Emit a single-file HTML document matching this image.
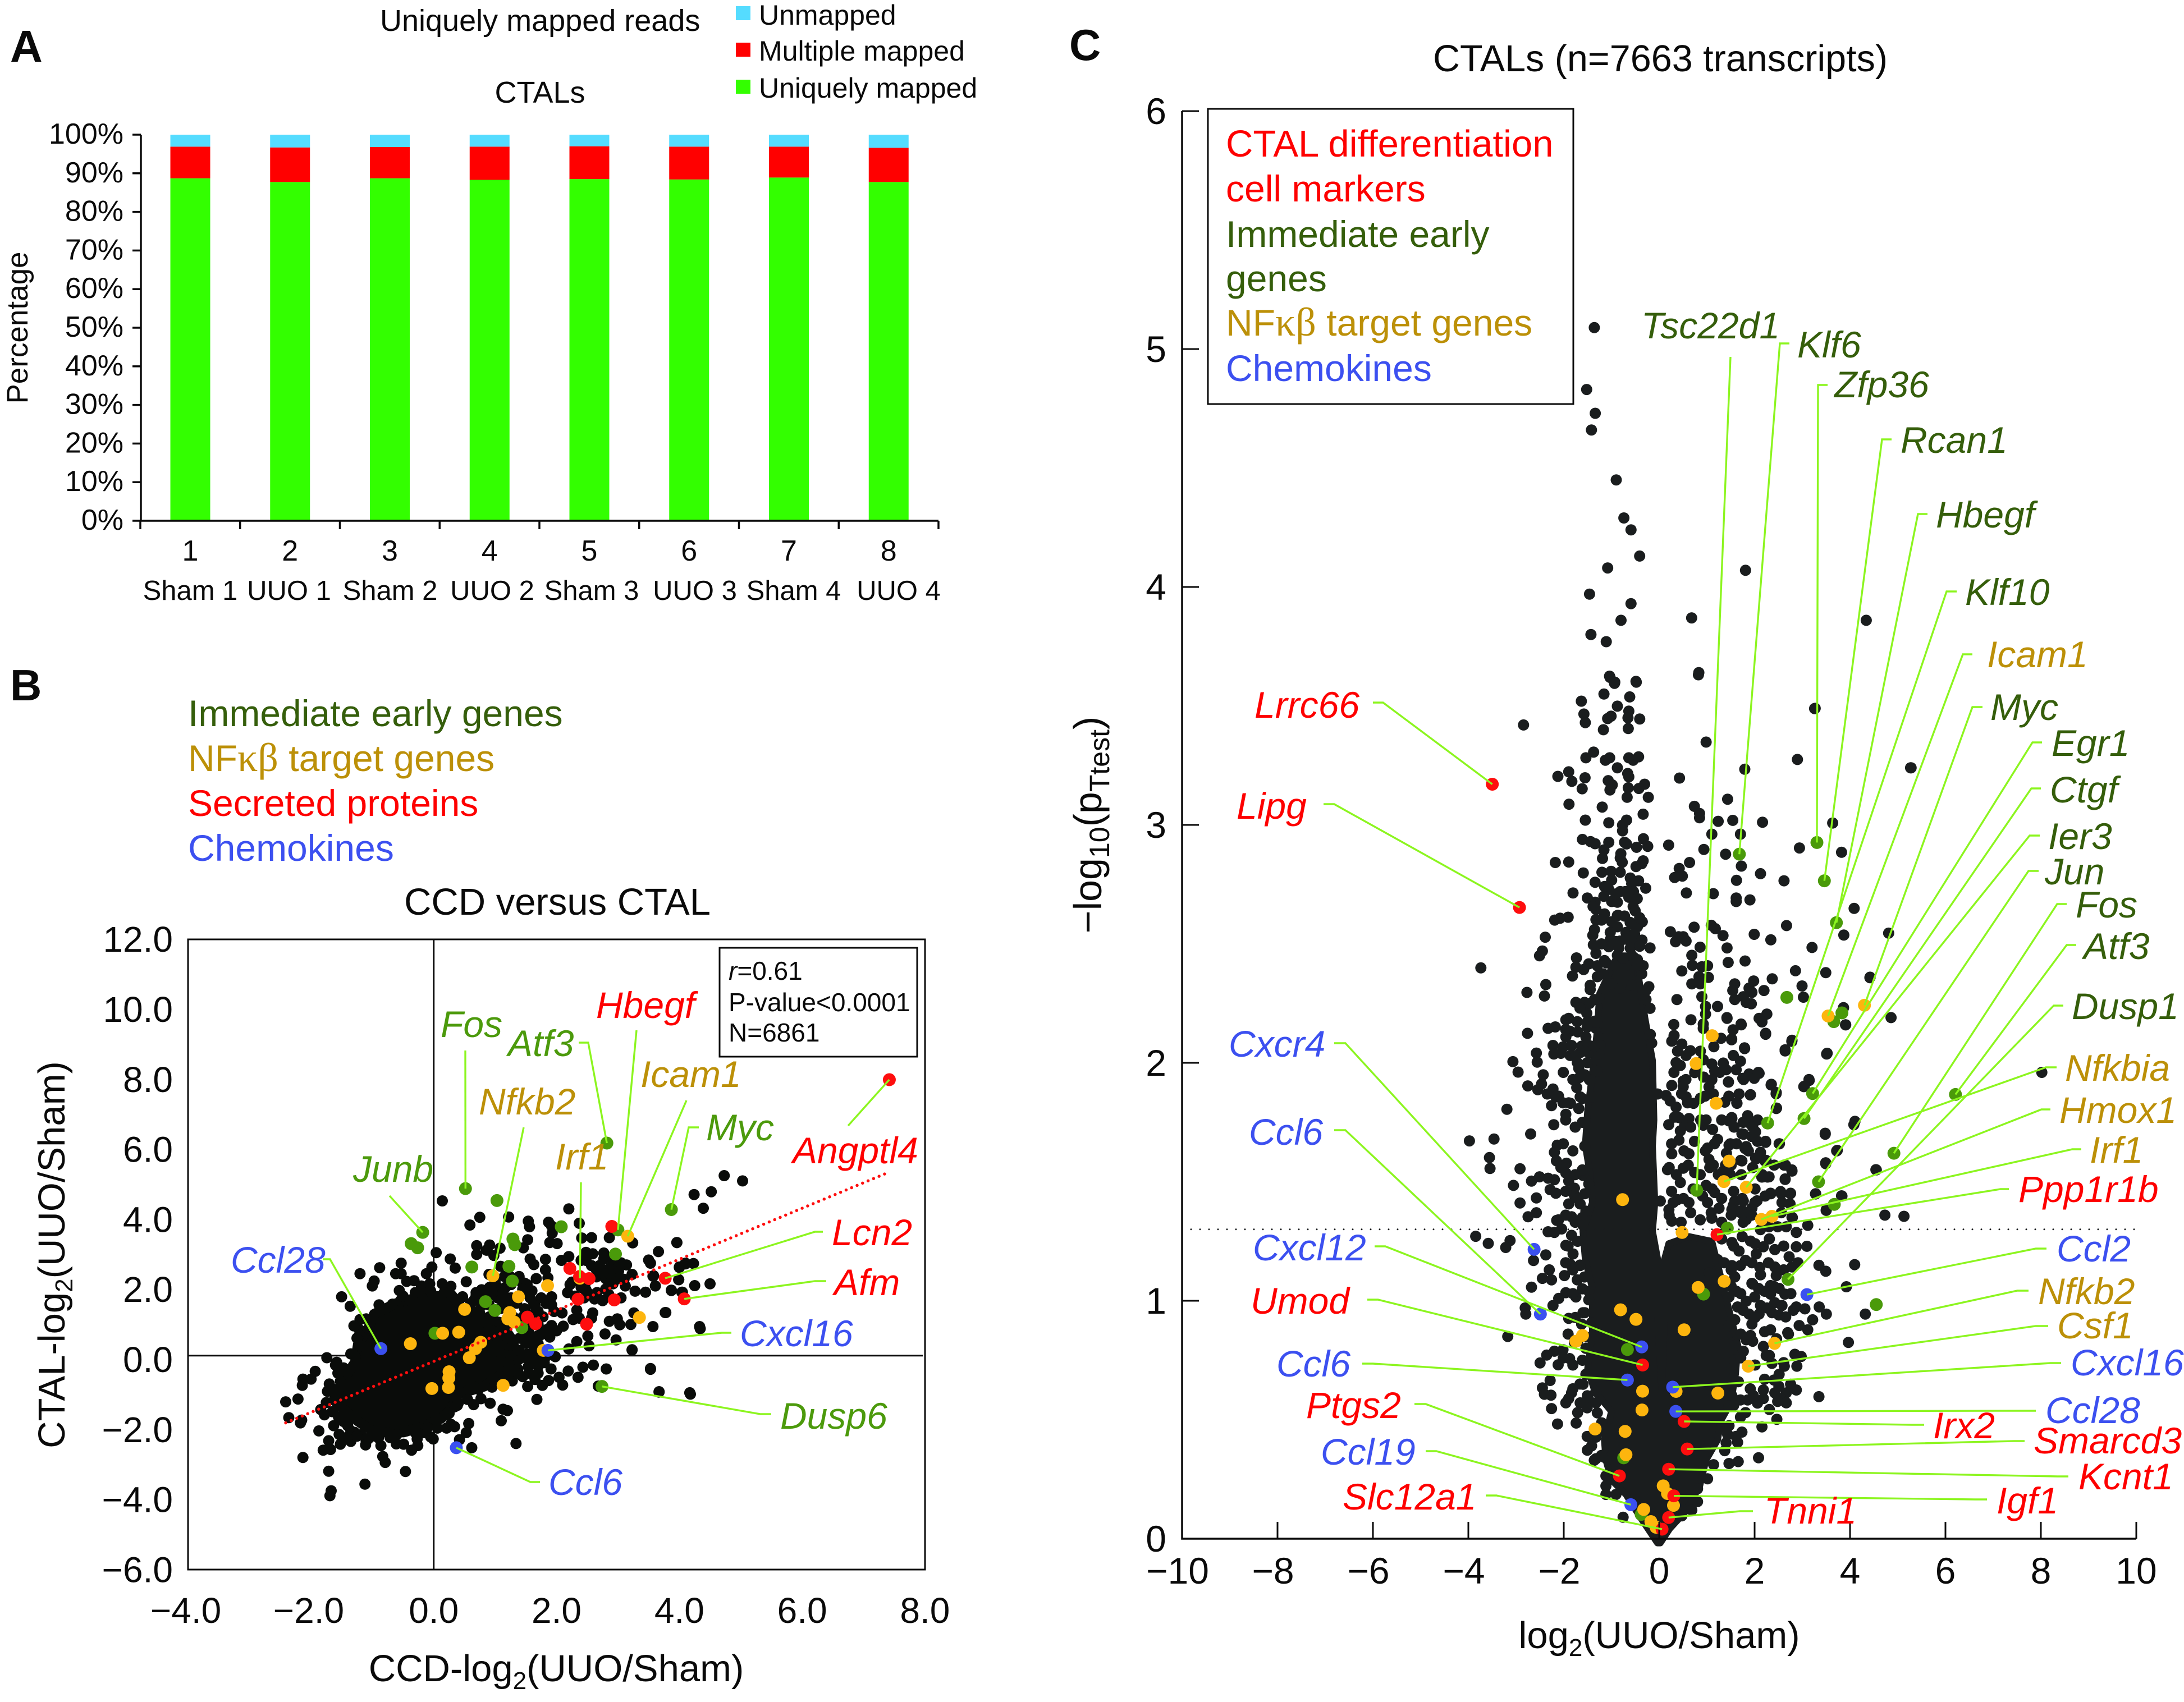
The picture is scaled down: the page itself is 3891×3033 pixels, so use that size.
<!DOCTYPE html>
<html lang="en"><head><meta charset="utf-8"><title>CTAL transcript figure</title>
<style>
html,body{margin:0;padding:0;background:#fff}
svg{display:block}
text{font-family:"Liberation Sans",sans-serif;fill:#0a0a0a}
.gene{font-style:italic;font-size:66px}
.g{fill:#4c9a0c}.dg{fill:#355e0b}.au{fill:#bc9008}.r{fill:#fe0000}.b{fill:#3c50f0}
.leg{font-size:66px}
.k{font-family:"Liberation Serif",serif;font-size:72px}
</style></head>
<body>
<svg id="fig" xmlns="http://www.w3.org/2000/svg" width="3891" height="3033" viewBox="0 0 3891 3033">
<rect width="3891" height="3033" fill="#fff"/>
<!-- Panel A -->
<text x="18" y="110" font-size="80" font-weight="700">A</text>
<text x="677" y="55" font-size="54">Uniquely mapped reads</text>
<text x="962" y="183" font-size="54" text-anchor="middle">CTALs</text>
<rect x="1311" y="11" width="26" height="25" fill="#55dcff"/>
<text x="1352" y="44" font-size="50">Unmapped</text>
<rect x="1311" y="76" width="26" height="25" fill="#ff0000"/>
<text x="1352" y="108" font-size="50">Multiple mapped</text>
<rect x="1311" y="142" width="26" height="25" fill="#33ff00"/>
<text x="1352" y="174" font-size="50">Uniquely mapped</text>
<text transform="translate(49 584) rotate(-90)" font-size="53" text-anchor="middle">Percentage</text>
<g font-size="49" text-anchor="middle">
<text x="339" y="1069">Sham 1</text>
<text x="515" y="1069">UUO 1</text>
<text x="695" y="1069">Sham 2</text>
<text x="877" y="1069">UUO 2</text>
<text x="1054" y="1069">Sham 3</text>
<text x="1238" y="1069">UUO 3</text>
<text x="1414" y="1069">Sham 4</text>
<text x="1601" y="1069">UUO 4</text>
</g>
<!-- Panel B -->
<text x="18" y="1248" font-size="78" font-weight="700">B</text>
<text x="335" y="1294" class="leg dg">Immediate early genes</text>
<text x="335" y="1374" class="leg au">NF<tspan class="k au">κβ</tspan> target genes</text>
<text x="335" y="1454" class="leg r">Secreted proteins</text>
<text x="335" y="1534" class="leg b">Chemokines</text>
<text x="993" y="1630" font-size="67" text-anchor="middle">CCD versus CTAL</text>
<text x="991" y="2996" font-size="67" text-anchor="middle">CCD-log<tspan dy="14" font-size="44">2</tspan><tspan dy="-14">(UUO/Sham)</tspan></text>
<text transform="translate(115 2236) rotate(-90)" font-size="67" text-anchor="middle">CTAL-log<tspan dy="14" font-size="44">2</tspan><tspan dy="-14">(UUO/Sham)</tspan></text>
<g id="bLabels" class="gene">
<text x="785" y="1848" class="g">Fos</text>
<text x="905" y="1882" class="g">Atf3</text>
<text x="1062" y="1814" class="r">Hbegf</text>
<text x="1141" y="1937" class="au">Icam1</text>
<text x="853" y="1986" class="au">Nfkb2</text>
<text x="1258" y="2032" class="g">Myc</text>
<text x="989" y="2084" class="au">Irf1</text>
<text x="629" y="2106" class="g">Junb</text>
<text x="1412" y="2073" class="r">Angptl4</text>
<text x="1482" y="2219" class="r">Lcn2</text>
<text x="1486" y="2308" class="r">Afm</text>
<text x="411" y="2268" class="b">Ccl28</text>
<text x="1318" y="2399" class="b">Cxcl16</text>
<text x="1390" y="2546" class="g">Dusp6</text>
<text x="977" y="2664" class="b">Ccl6</text>
</g>
<!-- Panel C -->
<text x="1905" y="107" font-size="78" font-weight="700">C</text>
<text x="2553" y="127" font-size="66.5">CTALs (n=7663 transcripts)</text>
<text x="2956" y="2937" font-size="67" text-anchor="middle">log<tspan dy="14" font-size="44">2</tspan><tspan dy="-14">(UUO/Sham)</tspan></text>
<text transform="translate(1962 1470) rotate(-90)" font-size="70" text-anchor="middle">−log<tspan dy="14" font-size="50">10</tspan><tspan dy="-14">(p</tspan><tspan dy="14" font-size="50">Ttest</tspan><tspan dy="-14">)</tspan></text>
<g id="cLabels" class="gene">
<text x="2924" y="603" class="dg">Tsc22d1</text>
<text x="3202" y="637" class="dg">Klf6</text>
<text x="3268" y="708" class="dg">Zfp36</text>
<text x="3386" y="807" class="dg">Rcan1</text>
<text x="3449" y="940" class="dg">Hbegf</text>
<text x="3501" y="1078" class="dg">Klf10</text>
<text x="3540" y="1189" class="au">Icam1</text>
<text x="3546" y="1283" class="dg">Myc</text>
<text x="3655" y="1347" class="dg">Egr1</text>
<text x="3652" y="1430" class="dg">Ctgf</text>
<text x="3649" y="1513" class="dg">Ier3</text>
<text x="3643" y="1576" class="dg">Jun</text>
<text x="3698" y="1635" class="dg">Fos</text>
<text x="3712" y="1709" class="dg">Atf3</text>
<text x="3691" y="1816" class="dg">Dusp1</text>
<text x="3679" y="1926" class="au">Nfkbia</text>
<text x="3669" y="2001" class="au">Hmox1</text>
<text x="3723" y="2072" class="au">Irf1</text>
<text x="3596" y="2142" class="r">Ppp1r1b</text>
<text x="3664" y="2248" class="b">Ccl2</text>
<text x="3631" y="2324" class="au">Nfkb2</text>
<text x="3665" y="2385" class="au">Csf1</text>
<text x="3689" y="2451" class="b">Cxcl16</text>
<text x="3644" y="2536" class="b">Ccl28</text>
<text x="3444" y="2563" class="r">Irx2</text>
<text x="3623" y="2590" class="r">Smarcd3</text>
<text x="3703" y="2654" class="r">Kcnt1</text>
<text x="3557" y="2697" class="r">Igf1</text>
<text x="3143" y="2715" class="r">Tnni1</text>
<text x="2235" y="1279" class="r">Lrrc66</text>
<text x="2203" y="1459" class="r">Lipg</text>
<text x="2189" y="1883" class="b">Cxcr4</text>
<text x="2225" y="2040" class="b">Ccl6</text>
<text x="2232" y="2246" class="b">Cxcl12</text>
<text x="2228" y="2341" class="r">Umod</text>
<text x="2274" y="2453" class="b">Ccl6</text>
<text x="2327" y="2527" class="r">Ptgs2</text>
<text x="2353" y="2610" class="b">Ccl19</text>
<text x="2392" y="2690" class="r">Slc12a1</text>
</g>
</svg>
<script>
/* ===== Panel A data ===== */
const sampleNumbers=['1','2','3','4','5','6','7','8'];
const uniqueShare=[88.7,87.75,88.7,88.3,88.5,88.4,88.9,87.75];
const multipleShare=[8.2,8.95,8.1,8.6,8.5,8.5,8.0,8.85];
const unmappedShare=[3.1,3.3,3.2,3.1,3.0,3.1,3.1,3.4];
const percentTicks=[0,10,20,30,40,50,60,70,80,90,100];

/* ===== Panel B data: CCD vs CTAL log2(UUO/Sham) ===== */
const bXTicks=[-4,-2,0,2,4,6,8];
const bYTicks=[-6,-4,-2,0,2,4,6,8,10,12];
const bRegressionLine=[-2.41,-1.82,7.36,5.3];
const bCrossing=[0,0.1];
/* outline of the fully overplotted centre of the cloud, x,y pairs */
const bDenseCore=[-.97,1.29,-.62,1.59,-.227,1.78,.3,1.82,.47,1.44,.69,1.21,1.08,1.06,1.26,.6,1.39,-.02,1.13,-.4,.82,-.78,.385,-1.01,.3,-1.4,.12,-1.7,-.183,-1.93,-.49,-2.09,-.97,-2.09,-1.23,-1.78,-1.49,-1.4,-1.63,-1.17,-1.49,-.63,-1.28,-.09,-1.23,.44,-1.06,.9];
/* individual transcripts, x,y pairs */
const bBlack=[.14,4.52,.75,4.05,.59,3.83,1.22,4.06,1.54,3.94,1.56,3.78,1.87,3.91,1.92,3.8,1.93,3.6,2.2,4.29,2.37,3.88,2.41,3.46,2.57,3.47,2.86,3.47,3.24,3.32,3.96,3.33,3.66,3.07,3.5,2.83,3.53,2.74,1.89,3.33,2.01,3.3,1.53,3.41,1.46,3.18,.7,3.24,.7,2.99,.91,3.26,.86,3.11,.98,2.96,1.08,3.17,.04,3.04,.27,2.86,.35,2.6,-.03,2.63,-.12,2.44,-.53,2.74,-.88,2.61,-1.2,2.44,-.62,2.44,-.53,2.44,-.97,2.23,-1,2.09,-.44,2.22,-.32,2.24,-.56,1.96,-.2,2.09,-.065,2.15,-.17,1.9,.14,2.15,.28,2.08,.53,2.21,.47,1.78,.17,1.9,-1.5,1.78,-1.36,1.51,-.89,1.55,-.67,1.57,-.54,1.67,-1.2,1.13,-1.21,.84,-1.21,.69,-1.19,.38,-1.28,.07,-1.74,.04,-1.58,-.09,-1.6,-.17,-1.47,-.25,-1.56,-.4,-1.93,-.35,-2.13,-.57,-1.997,-.57,-2.14,-.75,-2.41,-1.22,-2.21,-1.14,-2.36,-1.67,-2.17,-1.82,-2.15,-1.74,-1.7,-.71,-1.73,-.92,-1.63,-.86,-1.75,-1.24,-1.84,-1.44,-1.78,-1.59,-1.52,-.63,-1.63,-1.9,-1.47,-1.78,-1.87,-2.05,-1.54,-2.15,-1.42,-2.24,-1.52,-2.43,-1.35,-2.35,-1.71,-2.33,-1.8,-2.6,-1.68,-2.58,-2.13,-2.81,-1.11,-2.45,-1.1,-2.35,-.86,-2.47,-1.19,-2.16,-1.29,-2.09,-.71,-2.24,-.61,-2.42,-.49,-2.43,-.27,-2.28,-.26,-2.47,-.36,-2.6,-.445,-2.05,-.83,-2.78,-.79,-2.95,-.46,-3.21,-1.71,-3.2,-1.12,-3.57,-1.67,-3.76,-1.69,-3.9,-.008,-2.28,-.05,-2.22,.06,-1.97,.21,-1.97,.28,-1.86,.34,-1.93,.57,-1.84,.53,-2.1,.42,-2.3,.62,-2.53,1.34,-2.41,1.1,-1.76,1.13,-1.43,1.2,-1.47,.92,-1.26,.65,-1.3,.77,-1.13,.385,-1.03,.34,-1.36,.21,-1.59,.56,-.9,.95,-.8,1.28,-.62,1.17,-.48,1.68,-1.15,1.53,-.78,1.65,-.58,1.77,-.75,1.87,-.61,2.1,-.74,2.04,-.52,1.91,-.28,2.19,-.34,2.35,-.52,2.43,-.23,2.6,-.17,2.81,-.28,2.68,-.77,3.53,-.29,3.67,-.94,4.18,-1,1.98,.07,1.7,-.21,1.54,-.21,1.37,-.29,1.7,-.4,3.23,.26,2.2,.29,2.33,.5,2.53,.38,2.51,.66,2.97,.55,2.79,.72,3.57,.93,3.77,1.33,3.21,.99,3.03,.98,2.86,1.08,2.99,1.15,3.26,1.32,2.59,1.32,2.57,1.17,2.33,1.4,2.27,1.13,2.37,1.17,2.11,.94,1.92,.96,2,.81,1.89,.63,1.7,.67,1.52,.48,2.09,1.32,1.92,1.55,1.83,1.59,1.7,1.36,1.63,1.59,1.52,1.9,1.48,2.17,1.92,1.78,1.86,2.32,1.67,2.3,1.82,2.55,1.82,2.85,1.57,2.86,1.63,2.7,1.09,2.65,.9,2.42,1.15,2.36,1.39,2.36,.91,2.05,.69,1.9,1.04,2.05,.78,1.98,1.17,1.59,1.04,1.75,.65,1.67,2.08,2.82,2.2,2.93,2.4,2.82,2.48,3.05,2.59,3.01,2.48,2.82,2.77,3.03,2.77,2.86,2.57,2.67,2.7,2.67,2.96,2.7,3.14,2.69,2.86,2.59,3.01,2.51,3.23,2.42,2.94,2.4,3.1,2.28,2.92,2.15,3.12,2.09,2.18,1.9,2.22,2.13,2.48,1.98,2.66,1.9,2.62,1.72,2.75,1.67,3.28,1.94,3.45,1.91,3.61,2.09,3.58,2.38,3.87,1.97,3.99,2.27,4.04,1.91,4,2.63,4.1,2.74,4.73,5.24,5.03,5.09,4.24,4.7,4.52,4.78,4.39,4.31,3.96,3.33,4.23,2.73,4.1,2.72,4,2.62,3.57,2.37,3.99,2.27,4.25,2.1,4.5,2.15,3.87,1.96,4.05,1.91,3.78,1.33,4.33,.93,4.34,.87,4.17,-.96,3.67,-.93,3.53,-.27,3.23,.27,.78,1.52,.91,1.21,1.08,1.44,1.26,1.75,1.48,1.44,1.63,1.29,1.78,1.21,1.96,1.36,1.7,.44,1.52,.14,1.74,.02,1.63,.25,1.39,.25,1.22,-.17,1.35,-.4,1.13,-.71,.73,-.86,.65,-.78,.385,-1.32,1.04,.6,1.7,.98,1.26,2.13,1.17,2.05,1.43,2.2,1.52,2.13,1.57,1.75,1.65,1.52,1.13,1.9,.91,1.82,.95,1.98,.69,1.82,.6,1.59,.65,1.36,2.48,2.2];
/* extra estimated transcripts filling the semi-dense arm and rim of the cloud */
const bBlackRim=[.75,1.3,.85,1.05,.95,.8,1.1,.85,1.2,.95,1.3,1.2,1.45,1.2,1.5,.95,1.55,.75,1.4,.6,1.5,.45,1.3,.35,1.45,.05,1.6,-.05,1.25,.1,1.1,.15,.95,-.55,1,-.65,1.25,-.35,1.45,-.5,1.55,-.4,1.8,-.1,1.85,.1,1.6,.5,1.75,.7,1.85,.85,1.2,1.55,1.35,1.6,1.1,1.7,.9,1.55,.75,1.7,.85,1.9,1,2.2,1.25,2.35,1.45,2,1.6,1.95,1.75,1.75,2.3,1.8,2.45,1.75,2.25,2.2,2.4,2.05,2.55,1.85,2.8,2,2.85,1.85,3.05,1.75,2.65,2.35,2.8,2.3,2.85,2.15,3,2.3,2.65,2.55,2.75,2.45,3.05,2.75,2.9,2.85,2.5,2.95,-1.45,-.75,-1.6,-1,-1.65,-1.5,-1.55,-1.65,-1.4,-1.9,-1.35,-2.05,-1.25,-2.2,-1.05,-2.25,-.9,-2.25,-.75,-2.1,-.6,-2.15,-.3,-2.1,-.15,-2.1,-.1,-1.95,.05,-1.75,.25,-1.55,.4,-1.25,.55,-1.15,-1.35,.15,-1.25,.6,-1.3,.95,-1.1,1.15,-.85,1.45,-.5,1.8,-.3,1.9,-.05,1.95];
/* highlighted genes: name (blank when unlabelled), x, y */
const bEarlyGenes=[['Fos',.517,4.87],['',1.03,4.53],['Junb',-.179,3.62],['',-.367,3.3],['',-.262,3.18],['',.621,2.63],['',1.29,3.43],['',1.32,3.27],['',1.225,2.65],['',1.28,2.23],['',.844,1.64],['',.997,1.39],['',2.077,3.78],['Hbegf',3,3.69],['',2.96,3],['Myc',3.87,4.27],['Atf3',2.82,6.17],['',1.435,.9],['',.02,.74],['Dusp6',2.74,-.78]];
const bNfkbGenes=[['Nfkb2',.963,2.38],['Irf1',2.38,2.31],['Icam1',3.16,3.51],['',1.854,2.1],['',1.38,1.78],['',.503,1.42],['',1.238,1.33],['',1.207,1.15],['',1.31,1.06],['',3.35,1.19],['',.145,.74],['',.407,.77],['',-.38,.44],['',.766,.48],['',.68,.3],['',.58,.04],['',.25,-.36],['',.246,-.54],['',.24,-.81],['',-.03,-.84],['',1.13,-.75],['',1.785,.25]];
const bSecreted=[['Angptl4',7.42,7.98],['',2.9,3.79],['',2.217,2.59],['',2.375,2.36],['',2.53,2.3],['',2.35,1.71],['',2.94,1.69],['',2.49,1],['',1.526,1.2],['',1.66,1.01],['Lcn2',3.77,2.31],['Afm',4.08,1.72]];
const bChemokines=[['Ccl28',-.86,.3],['Cxcl16',1.86,.25],['Ccl6',.368,-2.53]];

/* ===== Panel C data: volcano plot ===== */
const cXTicks=[-10,-8,-6,-4,-2,0,2,4,6,8,10];
const cYTicks=[0,1,2,3,4,5,6];
const cThreshold=1.3;
const cDenseCore=[-.876,2.45,-.5,2.45,-.3,2.19,-.14,2.01,-.11,1.76,-.14,1.65,-.09,1.413,-.14,1.293,-.03,1.173,-.03,.932,0,.812,.054,.631,.11,.932,.11,1.173,.2,1.24,.624,1.27,1.104,1.25,1.35,1.052,1.65,.812,1.6,.691,1.5,.571,1.3,.499,1.224,.415,.98,.33,.85,.222,.55,.114,.22,.042,.024,-.018,-.036,-.018,-.396,.09,-.696,.186,-.996,.246,-1.116,.33,-1.15,.415,-1,.535,-1.35,.619,-1.5,.715,-1.4,.872,-1.4,1.052,-1.55,1.173,-1.6,1.293,-1.4,1.413,-1.45,1.533,-1.55,1.654,-1.5,1.8,-1.4,1.953,-1.3,2.133,-1.25,2.29];
const cBlack=[-1.36,5.09,-1.52,4.83,-1.34,4.73,-1.42,4.66,-.9,4.45,-.74,4.29,-.59,4.24,-.41,4.13,-1.08,4.08,1.81,4.07,-1.46,3.97,-.59,3.93,4.34,3.86,-.8,3.86,.68,3.87,-1.43,3.8,-1.11,3.77,.83,3.64,-1.03,3.62,-.93,3.6,-.48,3.6,3.27,3.49,5.28,3.24,5.27,3.24,
-1.04,3.625,-.936,3.595,-.486,3.603,.822,3.631,-1.158,3.55,-.618,3.538,-1.632,3.52,-.876,3.499,-.636,3.478,-1.578,3.466,-.654,3.45,-1.008,3.457,-1.08,3.447,-1.548,3.43,-.408,3.445,-2.844,3.42,-1.17,3.4,-.648,3.405,.984,3.348,3.258,3.489,-1.374,3.306,-1.536,3.282,-1.128,3.272,-1.038,3.282,-.636,3.282,-.546,3.272,-.432,3.286,2.898,3.275,-.876,3.24,1.794,3.234,-1.896,3.223,-2.124,3.204,-1.554,3.198,-.66,3.216,-.636,3.202,.426,3.197,-1.83,3.183,-1.068,3.186,-.984,3.168,-.306,3.171,-.426,3.153,-.648,3.156,-1.614,3.152,-1.032,3.147,-.672,3.116,-.228,3.116,1.434,3.108,-1.89,3.087,-1.194,3.075,.738,3.078,-.336,3.045,.846,3.048,.846,3.03,-1.548,3.02,-1.056,3.009,-.684,3.02,-.768,2.999,-.768,2.975,1.236,3.015,1.542,3.019,2.166,3.011,3.636,3.008,1.104,2.961,1.704,2.961,-1.608,2.939,-1.44,2.93,-1.344,2.921,-1.056,2.927,-.726,2.927,-.684,2.92,-.33,2.942,-.24,2.91,-.474,2.906,.198,2.915,-1.158,2.895,.936,2.897,1.392,2.877,2.94,2.903,3.822,2.885,-.804,2.879,-.816,2.861,-1.188,2.859,-.774,2.843,-.336,2.849,-.366,2.837,-.486,2.825,-2.178,2.842,-1.896,2.844,.636,2.842,1.722,2.827,.42,2.817,.486,2.785,.324,2.779,-1.59,2.798,-1.2,2.801,-1.008,2.805,-.816,2.801,2.124,2.795,2.616,2.765,1.62,2.767,-.606,2.777,-.432,2.765,-.996,2.768,-1.344,2.759,-.576,2.753,-1.146,2.741,-1.056,2.729,-.816,2.72,-.282,2.734,-.54,2.72,-1.806,2.714,.57,2.714,1.134,2.711,-1.506,2.693,-.636,2.696,-.996,2.678,-.876,2.675,-1.344,2.675,1.614,2.693,1.614,2.678,1.902,2.685,-.546,2.657,-1.386,2.657,-1.326,2.645,4.086,2.649,-.504,2.639,-1.146,2.626,-.876,2.619,-.726,2.617,-1.908,2.612,-2.076,2.608,-2.19,2.6,-1.326,2.602,-.996,2.593,-.354,2.593,-.576,2.584,1.092,2.578,1.176,2.564,.732,2.57,2.67,2.577,.234,2.551,-.876,2.572,-.456,2.572,-1.356,2.56,-1.026,2.548,-.696,2.548,-.516,2.542,-1.392,2.536,1.338,2.535,1.992,2.54,3.87,2.537,.504,2.53,.408,2.53,-2.388,2.528,-1.026,2.518,-.36,2.516,-.816,2.512,-.576,2.512,2.34,2.517,.564,2.512,.342,2.509,-1.38,2.496,-1.056,2.488,-.846,2.482,-.606,2.482,-.192,2.483,.858,2.486,1.422,2.483,3.204,2.485,-2.448,2.47,-2.508,2.45,-1.326,2.46,-.876,2.452,-.576,2.452,.684,2.452,-1.734,2.441,-1.146,2.43,-.456,2.434,1.446,2.422,1.8,2.428,-3.738,2.399,-1.476,2.416,-1.296,2.408,-.936,2.41,-.696,2.41,-.336,2.408,.696,2.41,.894,2.404,1.014,2.408,-1.746,2.402,-1.584,2.392,.474,2.386,2.856,2.387,-1.176,2.374,-.366,2.374,3.492,2.379,4.416,2.358,-1.818,2.365,-1.296,2.362,.834,2.362,1.032,2.359,2.37,2.353,1.98,2.344,-2.376,2.329,-1.446,2.326,-.996,2.332,-.576,2.326,1.584,2.332,.684,2.332,.864,2.332,2.994,2.323,-2.772,2.296,-.216,2.32,-.276,2.304,-1.146,2.311,-.816,2.314,1.542,2.304,1.884,2.314,2.196,2.304,-2.406,2.281,-1.446,2.308,3.024,2.276,.372,2.266,.894,2.278,1.584,2.266,1.944,2.296,1.764,2.278,1.824,2.254,1.932,2.248,-1.746,2.254,-1.566,2.254,-1.356,2.266,-.276,2.266,1.224,2.237,.972,2.237,-.192,2.229,3.864,2.232,-1.518,2.209,.972,2.205,1.422,2.187,2.256,2.205,2.094,2.187,2.154,2.172,.666,2.181,-1.896,2.187,-1.956,2.181,-1.716,2.173,-1.506,2.172,-1.356,2.175,1.716,2.163,3.906,2.16,.306,2.161,.924,2.163,.924,2.145,1.548,2.139,-2.178,2.151,-2.328,2.145,-1.326,2.145,-.156,2.083,-.186,2.119,-2.76,2.124,2.232,2.124,.312,2.115,.264,2.091,-1.872,2.133,-1.956,2.109,-1.536,2.109,-1.236,2.103,1.296,2.103,1.518,2.097,2.784,2.095,-2.226,2.073,-2.016,2.067,-1.836,2.073,-1.626,2.07,-1.476,2.073,-1.236,2.073,1.146,2.068,1.788,2.063,2.64,2.055,.474,2.079,-2.574,2.041,-2.208,2.037,-1.866,2.031,-1.656,2.043,-1.476,2.043,-1.266,2.037,.654,2.051,.384,2.049,3.51,2.037,.864,2.049,1.554,2.031,-3.066,2.005,-2.556,2.003,-1.716,2.001,-1.506,2.001,.354,2.001,.564,2.031,1.344,1.999,1.704,2.007,1.104,1.995,.924,2.013,-2.958,1.961,-1.686,1.977,-1.296,1.965,.444,1.989,1.404,1.971,1.614,1.971,.744,1.959,1.164,1.965,2.094,1.956,-2.43,1.95,-1.674,1.938,-1.464,1.929,1.884,1.953,1.752,1.935,1.992,1.935,1.104,1.929,-2.754,1.903,-2.466,1.911,-2.544,1.887,-2.226,1.89,-1.728,1.896,1.452,1.919,2.346,1.907,3.144,1.926,3.042,1.902,.504,1.923,.264,1.905,.504,1.899,1.044,1.899,.144,1.863,-.036,1.869,-2.346,1.869,-2.166,1.857,-1.656,1.857,-1.416,1.857,.564,1.857,1.674,1.869,1.914,1.866,2.454,1.875,1.134,1.869,.864,1.851,-3.192,1.805,-2.256,1.82,-2.016,1.832,-1.896,1.832,-1.686,1.808,.354,1.814,1.374,1.835,1.626,1.832,2.454,1.808,.594,1.832,1.854,1.778,1.524,1.766,.324,1.772,.624,1.766,.984,1.76,-1.956,1.784,4.104,1.754,2.064,1.76,
4.81,2.545,4.42,2.36,4.86,2.19,8.02,1.96,4.08,1.74,4.55,1.55,4.73,1.36,5.13,1.355,3.48,1.7,3.72,1.63,3.86,2.23,3.91,2.16,3.52,2.04,3.49,1.58,3.83,1.44,3.5,1.38,3.28,1.45,3.14,1.93,3.03,1.9,2.35,1.91,2.45,1.87,2.46,1.81,2.52,1.66,2.23,1.67,2.12,1.62,2.02,1.6,2.24,1.59,2.62,1.57,2.78,1.55,2.64,1.51,2.34,1.45,2.56,1.45,2.75,1.45,2.15,1.52,2.27,1.52,2.79,1.35,2.64,2.05,2.78,2.09,2.23,2.12,1.79,2.06,1.52,2.1,1.42,2.19,1.72,2.16,2.15,2.18,1.91,1.865,1.63,1.83,1.45,1.92,2.08,1.96,1.77,1.93,1.86,1.75,1.52,1.77,1.96,1.73,1.77,1.7,1.49,1.66,1.8,1.64,1.71,1.59,1.39,1.57,1.49,1.53,1.74,1.38,1.93,1.36,1.55,1.4,2.05,1.42,
-3.978,1.672,-3.462,1.68,-2.694,1.701,-3.558,1.602,-3.546,1.556,-2.916,1.555,-3.054,1.485,-2.676,1.503,-2.508,1.521,-2.328,1.515,-2.196,1.509,-2.286,1.467,-2.166,1.452,-2.574,1.432,-2.916,1.411,-2.574,1.37,-2.748,1.353,-2.148,1.338,-2.046,1.302,-2.328,1.29,-2.196,1.287,-3.846,1.271,-3.582,1.241,-3.126,1.253,-3.216,1.224,-2.376,1.193,-2.634,1.169,-2.304,1.13,-2.448,1.094,-2.256,1.088,-2.676,1.057,-2.808,.97,-2.796,.944,-3.174,.85,-2.496,.739,-2.358,.772,-2.118,.731,-2.286,.665,-2.448,.634,-2.406,.607,-2.268,.603,-2.256,.547,-2.13,.482,-1.74,.486,-1.836,.613,-1.896,.589,-1.956,.571,
-2.136,1.654,-2.196,1.624,-2.154,1.588,-1.944,1.578,-1.956,1.537,-1.596,1.527,-1.896,1.503,-1.776,1.473,-1.776,1.443,-1.476,1.491,-1.896,1.407,-1.656,1.407,-1.836,1.353,-1.536,1.377,-1.596,1.317,-1.836,1.275,-1.956,1.233,-1.806,1.197,-1.866,1.154,-1.656,1.148,-1.986,1.106,-1.716,1.088,-1.566,1.1,-1.746,1.016,-1.476,1.04,-1.956,1.034,-2.106,1.01,-2.226,.98,-1.596,.95,-1.896,.926,-1.476,1.004,-1.416,.908,-1.626,.902,-1.536,.848,-1.776,.824,-2.196,.788,-2.016,.794,-1.878,.757,-1.536,.8,-1.536,.691,-1.596,.649,-1.326,.619,-1.506,.601,-1.656,.571,-1.476,.583,-1.326,.571,-1.296,.529,-1.206,.487,-1.056,.463,-1.326,.427,-1.176,.451,-1.416,.39,-1.506,.372,-1.326,.336,-1.146,.342,-1.116,.264,-1.116,.222,-1.116,.186,-.906,.186,-.756,.09,
.414,1.675,.264,1.618,.174,1.551,.534,1.738,.444,1.714,.924,1.738,1.464,1.756,1.734,1.702,1.944,1.69,1.824,1.648,2.232,1.666,2.124,1.624,2.514,1.66,2.034,1.597,2.214,1.588,3.48,1.704,3.732,1.632,3.492,1.576,4.542,1.551,2.646,1.57,2.784,1.545,2.184,1.521,2.304,1.521,2.544,1.459,2.754,1.452,2.64,1.512,2.334,1.452,3.276,1.449,3.822,1.441,3.504,1.383,2.784,1.351,2.574,1.413,2.742,1.407,1.224,1.678,1.014,1.642,1.134,1.57,1.464,1.654,1.344,1.545,1.734,1.588,1.044,1.594,.444,1.497,.624,1.618,.504,1.557,.744,1.539,.294,1.413,.024,1.419,.204,1.383,.384,1.425,.624,1.413,.984,1.485,1.164,1.455,1.014,1.413,1.254,1.389,1.584,1.419,1.764,1.419,1.524,1.383,1.944,1.389,1.704,1.371,2.004,1.413,1.104,1.347,1.824,1.341,.264,1.335,2.664,1.311,2.484,1.311,2.874,1.287,3.114,1.317,2.304,1.311,2.124,1.299,1.914,1.251,2.184,1.227,2.034,1.197,2.424,1.215,2.874,1.227,3.096,1.229,2.724,1.185,1.524,1.245,1.674,1.209,2.784,1.142,2.424,1.142,1.704,1.148,1.944,1.16,1.524,1.148,1.224,1.173,3.348,1.149,3.492,1.124,4.098,1.152,2.124,1.109,2.454,1.106,1.584,1.1,1.044,1.118,1.944,1.073,2.082,1.052,2.334,1.064,1.614,1.04,3.924,1.059,2.514,1.052,2.634,1.028,2.334,1.028,2.004,1.016,1.824,.998,1.644,.974,1.464,1.016,2.124,.98,2.424,.992,2.574,.98,2.874,.974,3.054,.966,3.354,.974,3.504,.944,3.216,.92,4.32,.944,2.364,.95,2.652,.932,1.884,.944,2.094,.944,1.584,.92,1.464,.896,1.944,.902,1.914,.854,2.334,.878,2.934,.896,3.114,.878,2.694,.866,1.824,.836,1.584,.812,2.184,.808,2.844,.775,2.976,.766,2.244,.77,1.764,.788,1.584,.751,2.364,.737,2.886,.725,2.622,.725,3.966,.825,1.524,.715,2.514,.691,2.406,.667,2.754,.649,2.874,.625,2.184,.625,2.664,.613,2.184,.589,2.424,.613,2.544,.589,2.664,.571,2.484,.577,3.348,.597,1.974,.601,1.854,.583,1.704,.583,1.524,.601,1.464,.559,2.31,.543,2.466,.502,1.704,.511,1.464,.475,1.734,.448,2.154,.47,1.434,.439,1.644,.405,1.404,.403,1.374,.37,2.082,.34,1.656,.324,1.464,.316,1.14,.311,1.014,.252,.924,.354,.804,.21,.804,.156,.684,.12,.474,.096];
/* extra estimated transcripts for the crowded right flank */
const cBlackRightFlank=[.31,1.96,.56,1.93,.77,1.97,.93,1.94,1.27,1.96,.23,1.84,.47,1.87,.72,1.83,.96,1.86,1.22,1.83,1.46,1.86,.2,1.74,.41,1.77,.66,1.73,.87,1.76,1.12,1.72,1.31,1.76,1.57,1.73,1.76,1.75,2.02,1.71,.26,1.66,.52,1.63,.74,1.67,.97,1.63,1.16,1.66,1.41,1.62,1.62,1.66,1.87,1.63,2.06,1.67,.21,1.56,.36,1.53,.61,1.57,.86,1.53,1.06,1.56,1.24,1.53,1.51,1.57,1.72,1.53,1.96,1.56,2.16,1.53,2.41,1.57,.26,1.46,.51,1.43,.71,1.47,.91,1.44,1.11,1.47,1.31,1.43,1.56,1.46,1.74,1.43,2.01,1.47,2.22,1.44,.21,1.36,.46,1.33,.66,1.37,.86,1.34,1.09,1.37,1.31,1.33,1.51,1.36,1.76,1.33,1.94,1.36,2.26,1.34,2.56,1.37,1.31,1.26,1.56,1.23,1.74,1.27,2.01,1.24,2.31,1.26,2.61,1.23,1.36,1.16,1.51,1.13,1.81,1.17,2.11,1.14,2.29,1.16,2.61,1.13,2.91,1.16,1.51,1.06,1.71,1.03,1.96,1.07,2.21,1.04,2.41,1.06,2.76,1.03,1.76,.96,2.01,.93,2.26,.97,2.51,.94,2.81,.96,1.71,.86,1.96,.83,2.21,.87,2.46,.84,2.71,.86,1.71,.76,2.01,.73,2.31,.77,2.61,.74,1.66,.66,1.91,.63,2.21,.67,2.51,.64,1.56,.56,1.81,.53,2.06,.57,1.41,.46,1.61,.43];
/* extra estimated transcripts for the crowded left flank and upper column */
const cBlackLeftFlank=[-1.46,2.25,-1.66,2.23,-1.26,2.27,-1.51,2.15,-1.71,2.13,-1.31,2.17,-1.96,2.14,-1.56,2.05,-1.76,2.03,-1.36,2.07,-2.06,2.04,-1.56,1.95,-1.81,1.93,-2.01,1.96,-1.61,1.85,-1.86,1.83,-2.11,1.86,-1.61,1.75,-1.76,1.73,-1.96,1.76,-2.21,1.74,-1.56,1.65,-1.81,1.63,-2.01,1.66,-1.61,1.55,-1.76,1.53,-2.06,1.56,-1.56,1.45,-1.71,1.43,-1.96,1.46,-1.61,1.35,-1.76,1.33,-1.96,1.36,-2.11,1.34,-1.71,1.25,-1.91,1.23,-1.66,1.15,-1.81,1.13,-1.96,1.16,-1.61,1.05,-1.81,1.03,-1.56,.95,-1.76,.93,-1.56,.85,-1.71,.83,-1.91,.86,-1.61,.75,-1.81,.73,-2.01,.76,-1.66,.65,-1.81,.63,-1.51,.55,-1.71,.53,-1.36,.45,-1.51,.43,-1.21,.35,-1.36,.33,-1.11,2.42,-.76,2.44,-.46,2.41,-1.21,2.5,-.71,2.52,-.41,2.49,-.91,2.51,-1.21,2.6,-.86,2.62,-.61,2.59,-.41,2.61,-1.16,2.7,-.71,2.72,-.46,2.69,-.91,2.71];
const cEarlyGenes=[['Tsc22d1',.786,1.464],['Klf6',1.68,2.877],['Zfp36',3.306,2.926],['Rcan1',3.462,2.765],['Hbegf',3.714,2.589],['',2.676,2.275],['',3.66,2.173],['',3.83,2.21],['Egr1',3.216,1.871],['Ctgf',3.036,1.766],['Klf10',2.273,1.747],['Atf3',6.21,1.867],['Fos',4.92,1.62],['Jun',3.34,1.5],['',3.67,1.405],['',1.428,1.305],['Dusp1',2.7,1.09],['',4.55,.984],['',.93,1.028],['',-.666,.795],['',-.744,.34],['',-.378,.102]];
const cNfkbGenes=[['',1.11,2.114],['',.774,1.997],['',1.194,1.83],['Icam1',3.54,2.197],['Myc',4.302,2.242],['',1.464,1.587],['Nfkbia',1.356,1.501],['Ier3',1.824,1.477],['',-.768,1.425],['',.48,1.287],['Hmox1',2.142,1.342],['Irf1',2.364,1.355],['',1.362,1.082],['',.816,1.056],['',-.81,.962],['',-.486,.922],['',.522,.878],['Nfkb2',2.418,.821],['',-1.608,.854],['',-1.746,.83],['Csf1',1.866,.725],['',-.348,.62],['',.354,.619],['',1.23,.612],['',-.36,.541],['',-1.344,.461],['',-.714,.451],['',-.696,.353],['',.084,.222],['',.174,.19],['',.3,.14],['',-.324,.123],['',-.174,.072],['',-.066,.048]];
const cMarkers=[['Lrrc66',-3.498,3.171],['Lipg',-2.928,2.653],['Ppp1r1b',1.212,1.278],['Umod',-.348,.73],['Irx2',.522,.493],['Smarcd3',.588,.377],['Kcnt1',.198,.292],['Ptgs2',-.834,.264],['Igf1',.306,.18],['Tnni1',.198,.089],['Slc12a1',.06,.04]];
const cChemokines=[['Cxcr4',-2.622,1.216],['Ccl6a',-2.49,.944],['Cxcl12',-.366,.806],['Ccl6b',-.666,.667],['Ccl2',3.096,1.026],['Cxcl16',.282,.637],['Ccl28',.348,.535],['Ccl19',-.594,.143]];

/* ===== Annotation layout (label-side pixels of each leader; the far end follows the gene's values) ===== */
const bLeaderLayout={Junb:[694,2131],Fos:[829,1872],Atf3:[1031,1858,1048,1858],Hbegf:[1134,1836],Icam1:[1223,1961],Myc:[1245,2009,1227,2009],Nfkb2:[933,2009],Irf1:[1035,2107],Ccl28:[575,2244,588,2244],Angptl4:[1511,2006],Lcn2:[1466,2195,1452,2195],Afm:[1472,2283,1452,2283],Cxcl16:[1303,2375,1286,2375],Dusp6:[1374,2520,1355,2520],Ccl6:[962,2641,945,2641]};
const cLeaderLayout={Tsc22d1:[3083,636],Klf6:[3188,612,3171,612],Zfp36:[3256,686,3239,686],Rcan1:[3370,783,3353,783],Hbegf:[3434,916,3417,916],Klf10:[3486,1054,3468,1054],Icam1:[3514,1166,3497,1166],Myc:[3532,1260,3514,1260],Egr1:[3638,1323,3621,1323],Ctgf:[3636,1405,3619,1405],Ier3:[3634,1489,3616,1489],Jun:[3632,1552,3614,1552],Fos:[3682,1611,3665,1611],Atf3:[3699,1684,3682,1684],Dusp1:[3676,1792,3659,1792],Nfkbia:[3664,1902,3645,1902],Hmox1:[3653,1977,3637,1977],Irf1:[3708,2048,3692,2048],Ppp1r1b:[3579,2119,3564,2119],Ccl2:[3646,2225,3627,2225],Nfkb2:[3614,2300,3594,2300],Csf1:[3649,2363,3627,2363],Cxcl16:[3672,2429,3653,2429],Ccl28:[3627,2514,3607,2514],Irx2:[3428,2539,3406,2539],Smarcd3:[3607,2568,3588,2568],Kcnt1:[3685,2631,3666,2631],Igf1:[3540,2672,3519,2672],Tnni1:[3123,2693,3100,2693],Lrrc66:[2446,1252,2464,1252],Lipg:[2358,1433,2377,1433],Cxcr4:[2377,1859,2397,1859],Ccl6a:[2377,2014,2397,2014],Cxcl12:[2449,2221,2468,2221],Umod:[2436,2316,2455,2316],Ccl6b:[2427,2430,2446,2430],Ptgs2:[2520,2502,2540,2502],Ccl19:[2540,2586,2559,2586],Slc12a1:[2647,2665,2666,2665]};

const SVGNS='http://www.w3.org/2000/svg';
const fig=document.getElementById('fig');
const labelLayerB=document.getElementById('bLabels');
const labelLayerC=document.getElementById('cLabels');
function mk(tag,parent,attrs){const el=document.createElementNS(SVGNS,tag);for(const k in attrs)el.setAttribute(k,attrs[k]);(parent||fig).appendChild(el);return el;}
function group(){return document.createElementNS(SVGNS,'g');}
function minus(s){return String(s).replace('-','−');}

/* ---- Panel A ---- */
const aX=i=>250+177.75*i;
const aY=v=>928-v*6.88;
const barsA=group();fig.appendChild(barsA);


uniqueShare.forEach((u,i)=>{
  const left=aX(i)+53.5;
  const m=multipleShare[i],o=unmappedShare[i];
  const a=mk('rect',barsA,{x:left,y:aY(u),width:71,height:aY(0)-aY(u),fill:'#33ff00'});
  
  
  const b=mk('rect',barsA,{x:left,y:aY(u+m),width:71,height:aY(u)-aY(u+m),fill:'#ff0000'});
  
  
  const c=mk('rect',barsA,{x:left,y:aY(u+m+o),width:71,height:aY(u+m)-aY(u+m+o),fill:'#55dcff'});
  
  
  const t=mk('text',fig,{x:aX(i)+89,y:999,'font-size':52,'text-anchor':'middle'});
  t.textContent=sampleNumbers[i];
  
  
});
const axA=mk('path',fig,{fill:'none',stroke:'#0a0a0a','stroke-width':3.5,d:'M251 '+aY(100)+'V'+aY(0)+'H1672'});


percentTicks.forEach(p=>{
  const k=mk('line',fig,{x1:236,x2:251,y1:aY(p),y2:aY(p),stroke:'#0a0a0a','stroke-width':3.5});
  
  
  const t=mk('text',fig,{x:220,y:aY(p)+16,'font-size':52,'text-anchor':'end'});
  t.textContent=p+'%';
  
  
});
for(let i=0;i<=sampleNumbers.length;i++){
  const k=mk('line',fig,{x1:aX(i),x2:aX(i),y1:928,y2:943,stroke:'#0a0a0a','stroke-width':3.5});
  
  
}

/* ---- shared scatter helpers ---- */
function drawDense(parent,pairs,sx,sy,color,name,spread){
  let d='';
  for(let i=0;i<pairs.length;i+=2)d+=(i?'L':'M')+sx(pairs[i]).toFixed(1)+' '+sy(pairs[i+1]).toFixed(1);
  const p=mk('path',parent,{d:d+'Z',fill:color,stroke:color,'stroke-width':spread,'stroke-linejoin':'round'});
  
  
}
function drawBlack(parent,pairs,sx,sy,color,r){
  for(let i=0;i<pairs.length;i+=2){
    const c=mk('circle',parent,{cx:sx(pairs[i]).toFixed(1),cy:sy(pairs[i+1]).toFixed(1),r:r,fill:color});
    
    
  }
}
function drawGenes(parent,rows,sx,sy,color,r,lookup,name){
  rows.forEach(row=>{
    const c=mk('circle',parent,{cx:sx(row[1]),cy:sy(row[2]),r:r,fill:color});
    
    
    if(row[0])lookup[row[0]]=row;
  });
}
function drawLeaders(parent,layout,lookup,sx,sy,name){
  Object.keys(layout).forEach(gene=>{
    const pts=layout[gene],row=lookup[gene];
    if(!row)return;
    let d='M'+pts[0]+' '+pts[1];
    for(let i=2;i<pts.length;i+=2)d+='L'+pts[i]+' '+pts[i+1];
    d+='L'+sx(row[1]).toFixed(1)+' '+sy(row[2]).toFixed(1);
    const l=mk('path',parent,{d:d,fill:'none',stroke:'#8cf51f','stroke-width':3.4});
    
    
  });
}

/* ---- Panel B ---- */
const bx=v=>772.7+v*109.4;
const by=v=>2422-v*62.4;
const crossB=group();fig.appendChild(crossB);


mk('line',crossB,{x1:bx(bCrossing[0]),x2:bx(bCrossing[0]),y1:1674,y2:2797,stroke:'#0a0a0a','stroke-width':3});
mk('line',crossB,{x1:335,x2:1644,y1:by(bCrossing[1]),y2:by(bCrossing[1]),stroke:'#0a0a0a','stroke-width':3});
const pointsB=group();fig.appendChild(pointsB);


drawDense(pointsB,bDenseCore,bx,by,'#0a0c0a','b-dense-core',18);
drawBlack(pointsB,bBlack,bx,by,'#0a0c0a',10);
drawBlack(pointsB,bBlackRim,bx,by,'#0a0c0a',10);
const lookupB={};
drawGenes(pointsB,bEarlyGenes,bx,by,'#4a9a0a',11.5,lookupB,'early-gene-point');
drawGenes(pointsB,bNfkbGenes,bx,by,'#fdb50e',11.5,lookupB,'nfkb-gene-point');
drawGenes(pointsB,bSecreted,bx,by,'#fe0e0e',11.5,lookupB,'secreted-protein-point');
drawGenes(pointsB,bChemokines,bx,by,'#3b50f0',11.5,lookupB,'chemokine-point');
const reg=mk('line',fig,{x1:bx(bRegressionLine[0]),y1:by(bRegressionLine[1]),x2:bx(bRegressionLine[2]),y2:by(bRegressionLine[3]),stroke:'#fe0e0e','stroke-width':5.5,'stroke-linecap':'round','stroke-dasharray':'0 10.6'});


const leadersB=group();fig.appendChild(leadersB);


drawLeaders(leadersB,bLeaderLayout,lookupB,bx,by,'b-leader-line');
const frameB=mk('rect',fig,{x:335,y:1674,width:1313,height:1123,fill:'none',stroke:'#0a0a0a','stroke-width':3});


bXTicks.forEach(v=>{
  const t=mk('text',fig,{x:bx(v)-(v<0?4:0),y:2892,'font-size':64,'text-anchor':'middle'});
  t.textContent=minus(v.toFixed(1));
  
  
});
bYTicks.forEach(v=>{
  const t=mk('text',fig,{x:308,y:by(v)+23,'font-size':64,'text-anchor':'end'});
  t.textContent=minus(v.toFixed(1));
  
  
});
const statBox=mk('rect',fig,{x:1282,y:1689,width:352,height:194,fill:'#fff',stroke:'#0a0a0a','stroke-width':3});


const statR=mk('text',fig,{x:1298,y:1746,'font-size':46});
statR.innerHTML='<tspan font-style="italic">r</tspan>=0.61';


const statP=mk('text',fig,{x:1298,y:1802,'font-size':46});
statP.textContent='P-value<0.0001';


const statN=mk('text',fig,{x:1298,y:1856,'font-size':46});
statN.textContent='N=6861';


fig.appendChild(labelLayerB);

/* ---- Panel C ---- */
const cx=v=>2956+v*85;
const cy=v=>2742-v*424;
const pointsC=group();fig.appendChild(pointsC);


drawDense(pointsC,cDenseCore,cx,cy,'#1a1d1e','c-dense-core',12);
drawBlack(pointsC,cBlack,cx,cy,'#1a1d1e',10);
drawBlack(pointsC,cBlackRightFlank,cx,cy,'#1a1d1e',10);
drawBlack(pointsC,cBlackLeftFlank,cx,cy,'#1a1d1e',10);
const lookupC={};
drawGenes(pointsC,cEarlyGenes,cx,cy,'#4a9a0a',11.5,lookupC,'early-gene-point');
drawGenes(pointsC,cNfkbGenes,cx,cy,'#fdb50e',11.5,lookupC,'nfkb-gene-point');
drawGenes(pointsC,cMarkers,cx,cy,'#fe0e0e',11.5,lookupC,'ctal-marker-point');
drawGenes(pointsC,cChemokines,cx,cy,'#3b50f0',11.5,lookupC,'chemokine-point');
const thr=mk('line',fig,{x1:cx(-10),x2:cx(10),y1:cy(cThreshold),y2:cy(cThreshold),stroke:'#1a1d1e','stroke-width':3,'stroke-linecap':'round','stroke-dasharray':'0 16'});


const axC=mk('path',fig,{fill:'none',stroke:'#0a0a0a','stroke-width':3.5,d:'M'+cx(-10)+' '+cy(6)+'V'+cy(0)+'H'+cx(10)});


cXTicks.forEach(v=>{
  const k=mk('line',fig,{x1:cx(v),x2:cx(v),y1:2742,y2:2712,stroke:'#0a0a0a','stroke-width':3});
  
  
  const t=mk('text',fig,{x:cx(v)-(v<0?8:0),y:2822,'font-size':66,'text-anchor':'middle'});
  t.textContent=minus(v);
  
  
});
cYTicks.forEach(v=>{
  const k=mk('line',fig,{x1:2106,x2:2136,y1:cy(v),y2:cy(v),stroke:'#0a0a0a','stroke-width':3});
  
  
  const t=mk('text',fig,{x:2078,y:cy(v)+23,'font-size':66,'text-anchor':'end'});
  t.textContent=v;
  
  
});
const leadersC=group();fig.appendChild(leadersC);


drawLeaders(leadersC,cLeaderLayout,lookupC,cx,cy,'c-leader-line');
fig.appendChild(labelLayerC);
const legBox=mk('rect',fig,{x:2152,y:194,width:651,height:526,fill:'#fff',stroke:'#0a0a0a','stroke-width':3});


const legendC=group();fig.appendChild(legendC);


legendC.innerHTML='<text x="2184" y="279" class="r" font-size="67">CTAL differentiation</text><text x="2184" y="359" class="leg r">cell markers</text><text x="2184" y="440" class="leg dg">Immediate early</text><text x="2184" y="519" class="leg dg">genes</text><text x="2184" y="598" class="leg au">NF<tspan class="k au">κβ</tspan> target genes</text><text x="2184" y="679" class="leg b">Chemokines</text>';
</script>
</body></html>
